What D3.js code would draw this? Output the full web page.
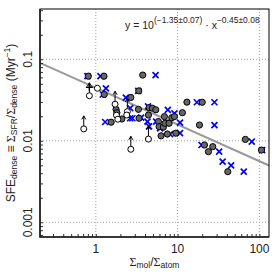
<!DOCTYPE html>
<html>
<head>
<meta charset="utf-8">
<script src="https://cdn.jsdelivr.net/npm/d3@7"></script>
<style>
  body { margin: 0; background: #fff; }
  svg { display: block; }
</style>
</head>
<body>
<div id="chart"></div>
<script>
// fit: log SFE = a + b log(ratio)
var fitIntercept = -1.35, fitInterceptErr = 0.07;
var fitSlope = -0.45, fitSlopeErr = 0.08;

// filled grey circles
var grayRatio = [0.81, 1.26, 1.27, 3.75, 3.35, 2.68, 1.54, 1.77, 1.81, 2.08, 3.32, 3.38,
  4.48, 4.92, 5.41, 4.40, 5.82, 5.94, 6.70, 7.03, 7.87, 6.90, 8.49, 9.14, 11.45, 13.0,
  20.0, 6.28, 7.5, 9.51, 18.5, 21.3, 23.8, 26.9, 41.1, 67.4, 106];
var graySFE = [0.062, 0.062, 0.037, 0.064, 0.041, 0.034, 0.0169, 0.0243, 0.0221, 0.0185, 0.0243, 0.0189,
  0.0255, 0.0251, 0.024, 0.0207, 0.0172, 0.0149, 0.0147, 0.0164, 0.0164, 0.0198, 0.0192, 0.0198, 0.0221, 0.0298,
  0.0297, 0.0115, 0.0121, 0.0124, 0.0156, 0.00888, 0.00735, 0.00847, 0.00418, 0.0104, 0.0077];

// blue crosses
var crossRatio = [0.79, 1.14, 1.22, 1.33, 5.38, 1.30, 2.33, 3.30, 2.63, 2.63, 2.80, 4.35,
  3.58, 4.28, 4.48, 5.47, 6.11, 7.59, 9.14, 8.09, 10.7, 10.7, 17.2, 28.2, 28.2, 19.6,
  32.2, 35.5, 45.1, 64.4, 80.7, 108];
var crossSFE = [0.062, 0.062, 0.037, 0.044, 0.064, 0.017, 0.0338, 0.041, 0.0252, 0.0189, 0.0189, 0.0264,
  0.0192, 0.0172, 0.015, 0.0172, 0.0142, 0.0239, 0.0217, 0.0121, 0.0124, 0.0167, 0.0297, 0.0297, 0.0156, 0.00888,
  0.00735, 0.00555, 0.005, 0.00418, 0.00975, 0.0077];

// open circles, some are lower limits (arrow)
var openRatio = [0.713, 0.835, 1.046, 1.72, 1.79, 1.86, 2.43, 2.39, 2.68, 4.40];
var openSFE = [0.0140, 0.0357, 0.0441, 0.0281, 0.0206, 0.0184, 0.0228, 0.0207, 0.00787, 0.0105];
var openLimit = [true, true, false, true, false, false, true, false, true, true];

// black plus
var plusRatio = [0.835];
var plusSFE = [0.0453];

var xTicks = [1, 10, 100];
var yTicks = [0.001, 0.01, 0.1];
var yTickLabels = ["0.001", "0.01", "0.1"];

var W = 274, H = 274;
var padL = 40, padR = 269, padT = 9, padB = 237;

var svg = d3.select('#chart').append('svg').attr('width', W).attr('height', H);

var x = d3.scaleLog().domain([0.208, 131]).range([padL, padR]);
var y = d3.scaleLog().domain([0.00066, 0.414]).range([padB, padT]);

function minors(scale) {
  var d = scale.domain(), out = [];
  for (var e = -4; e <= 3; e++) {
    for (var m = 1; m <= 9; m++) {
      var v = m * Math.pow(10, e);
      if (v >= d[0] && v <= d[1]) out.push(v);
    }
  }
  return out;
}

// grid
svg.append('g').selectAll('line').data(xTicks).enter().append('line')
  .attr('x1', function(d) { return x(d); }).attr('x2', function(d) { return x(d); })
  .attr('y1', padT).attr('y2', padB)
  .attr('stroke', '#a0a0a0').attr('stroke-width', 1).attr('stroke-dasharray', '1,2');
svg.append('g').selectAll('line').data(yTicks).enter().append('line')
  .attr('y1', function(d) { return y(d); }).attr('y2', function(d) { return y(d); })
  .attr('x1', padL).attr('x2', padR)
  .attr('stroke', '#a0a0a0').attr('stroke-width', 1).attr('stroke-dasharray', '1,2');

// fit line
var fitX = x.domain();
svg.append('line')
  .attr('x1', x(fitX[0])).attr('y1', y(Math.pow(10, fitIntercept) * Math.pow(fitX[0], fitSlope)))
  .attr('x2', x(fitX[1])).attr('y2', y(Math.pow(10, fitIntercept) * Math.pow(fitX[1], fitSlope)))
  .attr('stroke', '#9a9a9a').attr('stroke-width', 2);

// blue crosses
var cs = 3;
svg.append('g').selectAll('path').data(crossRatio).enter().append('path')
  .attr('d', function(d, i) {
    var cx = x(d), cy = y(crossSFE[i]);
    return 'M' + (cx - cs) + ',' + (cy - cs) + 'L' + (cx + cs) + ',' + (cy + cs) +
           'M' + (cx - cs) + ',' + (cy + cs) + 'L' + (cx + cs) + ',' + (cy - cs);
  })
  .attr('stroke', '#0000ff').attr('stroke-width', 1.7).attr('fill', 'none');

// grey circles
svg.append('g').selectAll('circle').data(grayRatio).enter().append('circle')
  .attr('cx', function(d) { return x(d); })
  .attr('cy', function(d, i) { return y(graySFE[i]); })
  .attr('r', 3.1)
  .attr('fill', '#666').attr('stroke', '#000').attr('stroke-width', 1);

// lower limit arrows
var r0 = 3;
svg.append('g').selectAll('path').data(openRatio).enter()
  .filter(function(d, i) { return openLimit[i]; })
  .append('path')
  .attr('d', function(d) {
    var i = openRatio.indexOf(d);
    var cx = x(d), cy = y(openSFE[i]) - r0, tip = cy - 10;
    return 'M' + cx + ',' + cy + 'L' + cx + ',' + tip +
           'M' + (cx - 2) + ',' + (tip + 3.5) + 'L' + cx + ',' + tip + 'L' + (cx + 2) + ',' + (tip + 3.5);
  })
  .attr('stroke', '#000').attr('stroke-width', 1).attr('fill', 'none');

// open circles
svg.append('g').selectAll('circle').data(openRatio).enter().append('circle')
  .attr('cx', function(d) { return x(d); })
  .attr('cy', function(d, i) { return y(openSFE[i]); })
  .attr('r', r0)
  .attr('fill', '#fff').attr('stroke', '#000').attr('stroke-width', 1);

// plus
svg.append('g').selectAll('path').data(plusRatio).enter().append('path')
  .attr('d', function(d, i) {
    var cx = x(d), cy = y(plusSFE[i]);
    return 'M' + (cx - 3.5) + ',' + cy + 'L' + (cx + 3.5) + ',' + cy +
           'M' + cx + ',' + (cy - 3.5) + 'L' + cx + ',' + (cy + 3.5);
  })
  .attr('stroke', '#000').attr('stroke-width', 1.4);

// ticks, pointing inward
svg.append('g').attr('transform', 'translate(0,' + padB + ')')
  .call(d3.axisBottom(x).tickValues(minors(x)).tickSize(-3).tickFormat(''))
  .call(function(g) { g.select('.domain').remove(); })
  .selectAll('line').attr('stroke', '#333');
svg.append('g').attr('transform', 'translate(' + padL + ',0)')
  .call(d3.axisLeft(y).tickValues(minors(y)).tickSize(-3).tickFormat(''))
  .call(function(g) { g.select('.domain').remove(); })
  .selectAll('line').attr('stroke', '#333');

// box
svg.append('rect').attr('x', padL).attr('y', padT)
  .attr('width', padR - padL).attr('height', padB - padT)
  .attr('fill', 'none').attr('stroke', '#000').attr('stroke-width', 1);
svg.append('path')
  .attr('d', 'M' + padL + ',' + padT + 'L' + padL + ',' + padB + 'L' + padR + ',' + padB)
  .attr('fill', 'none').attr('stroke', '#222').attr('stroke-width', 1.6);

var font = 'Liberation Sans, Arial, sans-serif';

// tick labels
svg.append('g').selectAll('text').data(xTicks).enter().append('text')
  .attr('x', function(d) { return x(d); }).attr('y', 253)
  .attr('text-anchor', 'middle')
  .style('font-family', font).style('font-size', '12px').attr('fill', '#222')
  .text(function(d) { return d; });
svg.append('g').selectAll('text').data(yTicks).enter().append('text')
  .attr('transform', function(d) { return 'translate(32,' + y(d) + ') rotate(-90)'; })
  .attr('text-anchor', 'middle')
  .style('font-family', font).style('font-size', '12px').attr('fill', '#222')
  .text(function(d, i) { return yTickLabels[i]; });

// x title
var xt = svg.append('text').attr('x', (padL + padR) / 2).attr('y', 266)
  .attr('text-anchor', 'middle').style('font-family', font).style('font-size', '12px').attr('fill', '#222');
xt.append('tspan').style('font-family', 'Liberation Serif, serif').text('Σ');
xt.append('tspan').style('font-size', '8.5px').attr('dy', 2).text('mol');
xt.append('tspan').attr('dy', -2).text('/');
xt.append('tspan').style('font-family', 'Liberation Serif, serif').text('Σ');
xt.append('tspan').style('font-size', '8.5px').attr('dy', 2).text('atom');

// y title
var yt = svg.append('text').attr('transform', 'translate(15,' + ((padT + padB) / 2) + ') rotate(-90)')
  .attr('text-anchor', 'middle').style('font-family', font).style('font-size', '12px').attr('fill', '#222');
yt.append('tspan').text('SFE');
yt.append('tspan').style('font-size', '8.5px').attr('dy', 2).text('dense');
yt.append('tspan').attr('dy', -2).text(' ≡ ');
yt.append('tspan').style('font-family', 'Liberation Serif, serif').text('Σ');
yt.append('tspan').style('font-size', '8.5px').attr('dy', 2).text('SFR');
yt.append('tspan').attr('dy', -2).text('/');
yt.append('tspan').style('font-family', 'Liberation Serif, serif').text('Σ');
yt.append('tspan').style('font-size', '8.5px').attr('dy', 2).text('dense');
yt.append('tspan').attr('dy', -2).text(' (Myr');
yt.append('tspan').style('font-size', '8.5px').attr('dy', -5).text('−1');
yt.append('tspan').attr('dy', 5).text(')');

// fit label
function signed(v) { return (v < 0 ? '−' : '') + Math.abs(v).toFixed(2); }
var eq = svg.append('text').attr('x', 125).attr('y', 29)
  .style('font-family', font).style('font-size', '10.5px').attr('fill', '#222');
eq.append('tspan').text('y = 10');
eq.append('tspan').style('font-size', '8.5px').attr('dy', -6)
  .text('(' + signed(fitIntercept) + '±' + fitInterceptErr.toFixed(2) + ')');
eq.append('tspan').attr('dy', 6).text(' · x');
eq.append('tspan').style('font-size', '8.5px').attr('dy', -6)
  .text(signed(fitSlope) + '±' + fitSlopeErr.toFixed(2));
</script>
</body>
</html>
